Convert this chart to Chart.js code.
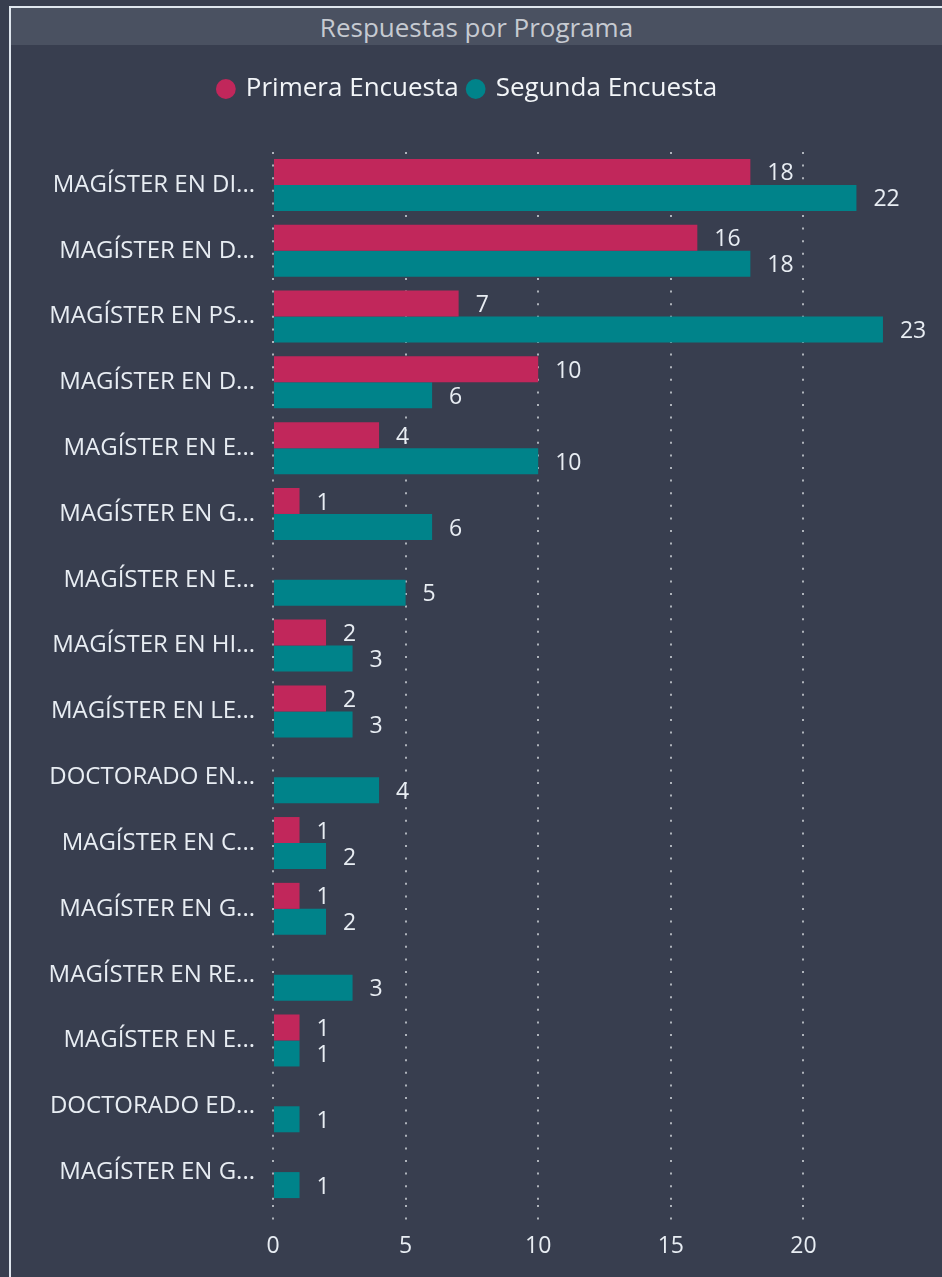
<!DOCTYPE html>
<html>
<head>
<meta charset="utf-8">
<script src="https://cdn.jsdelivr.net/npm/chart.js@4.4.1/dist/chart.umd.min.js"></script>
<style>
  html, body { margin: 0; padding: 0; background: #383e4f; }
  body { width: 942px; height: 1277px; position: relative; overflow: hidden; font-family: 'Open Sans', sans-serif; }
  #frame { position: absolute; left: 9px; top: 6px; width: 940px; height: 1280px; border-left: 2px solid #dfe6ee; border-top: 2px solid #dfe6ee; }
  #title { position: absolute; left: 11px; top: 8px; width: 931px; height: 37px; background: #4a5161;
           color: #c6cad1; font-size: 26px; line-height: 39px; text-align: center; }
  #wrap { position: absolute; left: 0; top: 0; width: 942px; height: 1277px; }
</style>
</head>
<body>
<div id="frame"></div>
<div id="title">Respuestas por Programa</div>
<div id="wrap"><canvas id="chart"></canvas></div>
<script>
const programas = [
  'MAGÍSTER EN DI...', 'MAGÍSTER EN D...', 'MAGÍSTER EN PS...', 'MAGÍSTER EN D...',
  'MAGÍSTER EN E...', 'MAGÍSTER EN G...', 'MAGÍSTER EN E...', 'MAGÍSTER EN HI...',
  'MAGÍSTER EN LE...', 'DOCTORADO EN...', 'MAGÍSTER EN C...', 'MAGÍSTER EN G...',
  'MAGÍSTER EN RE...', 'MAGÍSTER EN E...', 'DOCTORADO ED...', 'MAGÍSTER EN G...'
];
const primeraEncuesta = [18, 16, 7, 10, 4, 1, null, 2, 2, null, 1, 1, null, 1, null, null];
const segundaEncuesta = [22, 18, 23, 6, 10, 6, 5, 3, 3, 4, 2, 2, 3, 1, 1, 1];
const xTicks = [0, 5, 10, 15, 20];

const FONT = "'Open Sans', sans-serif";
const labelColor = '#e8edf3';

// fixed legend band so the plot starts where the original one does
const legendHeight = {
  id: 'legendHeight',
  beforeInit(chart) {
    const fit = chart.legend.fit;
    chart.legend.fit = function () {
      fit.call(this);
      this.height = 86;
    };
  }
};

const valueLabels = {
  id: 'valueLabels',
  afterDatasetsDraw(chart) {
    const ctx = chart.ctx;
    ctx.save();
    ctx.font = `23px ${FONT}`;
    ctx.fillStyle = labelColor;
    ctx.textBaseline = 'middle';
    ctx.textAlign = 'left';
    chart.data.datasets.forEach((ds, i) => {
      chart.getDatasetMeta(i).data.forEach((bar, j) => {
        const v = ds.data[j];
        if (v == null) return;
        ctx.fillText(String(v), bar.x + 17, bar.y + 2);
      });
    });
    ctx.restore();
  }
};

new Chart(document.getElementById('chart'), {
  type: 'bar',
  data: {
    labels: programas,
    datasets: [
      { label: 'Primera Encuesta', data: primeraEncuesta, backgroundColor: '#c1275b' },
      { label: 'Segunda Encuesta', data: segundaEncuesta, backgroundColor: '#00838a' }
    ]
  },
  options: {
    indexAxis: 'y',
    responsive: true,
    maintainAspectRatio: false,
    animation: false,
    categoryPercentage: 0.79,
    barPercentage: 1,
    layout: { padding: { top: 66, right: 6, left: 0, bottom: 0 } },
    plugins: {
      legend: {
        position: 'top',
        labels: {
          color: '#f2f5f8', usePointStyle: true, pointStyle: 'circle',
          boxWidth: 14, boxHeight: 14, padding: 10,
          font: { family: FONT, size: 26 }
        }
      },
      tooltip: { enabled: false }
    },
    scales: {
      x: {
        min: 0, max: 25,
        afterBuildTicks: s => { s.ticks = xTicks.map(v => ({ value: v })); },
        afterFit: s => { s.height = 72; },
        border: { display: false, dash: [2, 10.6] },
        grid: { color: '#aeb3bb', lineWidth: 2, tickLength: 16, tickColor: '#aeb3bb', tickBorderDash: [2, 10.6] },
        ticks: { color: labelColor, padding: 12, font: { family: FONT, size: 23 } }
      },
      y: {
        afterFit: s => { s.width = 273; },
        border: { display: false },
        grid: { display: false, drawTicks: false },
        ticks: { color: labelColor, padding: 18, font: { family: FONT, size: 24 } }
      }
    }
  },
  plugins: [legendHeight, valueLabels]
});
</script>
</body>
</html>
